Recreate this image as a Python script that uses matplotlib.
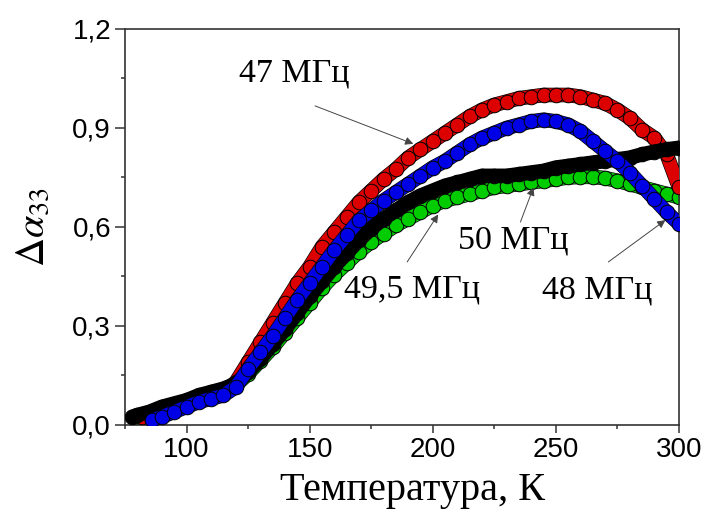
import matplotlib
matplotlib.use("Agg")
import matplotlib.pyplot as plt
import matplotlib.patheffects as pe
from matplotlib.ticker import MultipleLocator, FuncFormatter


# Temperature, K (each curve starts at its own point)
T_47 = [82, 85, 90, 95, 100, 105, 110, 115, 120, 125, 130, 135, 140, 145,
        150, 155, 160, 165, 170, 175, 180, 185, 190, 195, 200, 205, 210,
        215, 220, 225, 230, 235, 240, 245, 250, 255, 260, 265, 270, 275,
        280, 285, 290, 295, 300]
T_48 = [86, 90, 95, 100, 105, 110, 115, 120, 125, 130, 135, 140, 145,
        150, 155, 160, 165, 170, 175, 180, 185, 190, 195, 200, 205, 210,
        215, 220, 225, 230, 235, 240, 245, 250, 255, 260, 265, 270, 275,
        280, 285, 290, 295, 300]
T_495 = [80, 85, 90, 95, 100, 105, 110, 115, 120, 125, 130, 135, 140, 145,
         150, 155, 160, 165, 170, 175, 180, 185, 190, 195, 200, 205, 210,
         215, 220, 225, 230, 235, 240, 245, 250, 255, 260, 265, 270, 275,
         280, 285, 290, 295, 300]
T_50 = [78, 80, 85, 90, 95, 100, 105, 110, 115, 120, 125, 130, 135, 140,
        145, 150, 155, 160, 165, 170, 175, 180, 185, 190, 195, 200, 205,
        210, 215, 220, 225, 230, 235, 240, 245, 250, 255, 260, 265, 270,
        275, 280, 285, 290, 295, 300]

# delta alpha_33
A_47 = [0.025, 0.03, 0.04, 0.05, 0.065, 0.08, 0.09, 0.10, 0.13, 0.19, 0.25,
        0.31, 0.37, 0.43, 0.48, 0.54, 0.585, 0.63, 0.675, 0.71, 0.745,
        0.775, 0.81, 0.835, 0.86, 0.885, 0.91, 0.935, 0.955, 0.97, 0.98,
        0.99, 0.995, 1.0, 1.0, 1.0, 0.995, 0.985, 0.975, 0.955, 0.93,
        0.895, 0.87, 0.82, 0.72]
A_48 = [0.015, 0.025, 0.04, 0.055, 0.07, 0.08, 0.09, 0.115, 0.17, 0.22,
        0.27, 0.325, 0.38, 0.43, 0.48, 0.53, 0.575, 0.62, 0.65, 0.68,
        0.705, 0.73, 0.755, 0.78, 0.80, 0.825, 0.85, 0.87, 0.885, 0.90,
        0.91, 0.92, 0.925, 0.92, 0.91, 0.89, 0.86, 0.83, 0.80, 0.765,
        0.725, 0.685, 0.645, 0.61]
A_495 = [0.025, 0.035, 0.05, 0.06, 0.07, 0.085, 0.095, 0.105, 0.12, 0.155,
         0.195, 0.235, 0.28, 0.325, 0.37, 0.415, 0.455, 0.49, 0.525, 0.555,
         0.58, 0.605, 0.625, 0.645, 0.665, 0.68, 0.69, 0.70, 0.71, 0.72,
         0.725, 0.73, 0.735, 0.74, 0.745, 0.75, 0.752, 0.752, 0.748, 0.74,
         0.73, 0.72, 0.71, 0.70, 0.69]
A_50 = [0.025, 0.03, 0.04, 0.055, 0.065, 0.075, 0.09, 0.10, 0.11, 0.125,
        0.16, 0.20, 0.245, 0.29, 0.34, 0.39, 0.435, 0.48, 0.52, 0.56,
        0.595, 0.625, 0.65, 0.675, 0.695, 0.71, 0.725, 0.735, 0.745,
        0.755, 0.755, 0.755, 0.76, 0.765, 0.77, 0.78, 0.785, 0.79, 0.795,
        0.80, 0.805, 0.81, 0.82, 0.828, 0.835, 0.84]

# draw order: bottom first
SERIES = [
    (T_495, A_495, "#00cc00"),
    (T_47, A_47, "#dd0000"),
    (T_50, A_50, "#000000"),
    (T_48, A_48, "#0000e6"),
]

# label text, text position, arrow start, arrow tip
LABELS = [
    ("47 МГц", (143.7, 1.067), (152.2, 0.967), (192.1, 0.852)),
    ("50 МГц", (232.7, 0.56), (235.6, 0.615), (240.9, 0.72)),
    ("49,5 МГц", (191.7, 0.412), (189.6, 0.494), (202.2, 0.638)),
    ("48 МГц", (266.9, 0.409), (271.3, 0.494), (294.5, 0.621)),
]

plt.rcParams["mathtext.fontset"] = "stix"

fig = plt.figure(figsize=(7.05, 5.15), dpi=100)
ax = fig.add_axes([0.1773, 0.1748, 0.7858, 0.7689])

for z, (t, a, color) in enumerate(SERIES):
    ax.plot(t, a, color=color, lw=9.5, solid_capstyle="round", zorder=2 + z,
            path_effects=[pe.withStroke(linewidth=10.5, foreground="k")])
    ax.plot(t, a, "o", ms=10.5, mfc=color, mec="k", mew=0.7, zorder=2 + z)

for text, pos, start, tip in LABELS:
    ax.text(pos[0], pos[1], text, ha="center", va="center", fontsize=24.5,
            family="Liberation Serif", zorder=10)
    ax.annotate("", xy=tip, xytext=start, zorder=10,
                arrowprops=dict(arrowstyle="-|>", color="#444444", lw=0.7,
                                mutation_scale=12, shrinkA=0, shrinkB=0))

ax.set_xlim(75, 300)
ax.set_ylim(0, 1.2)
ax.xaxis.set_major_locator(MultipleLocator(50))
ax.xaxis.set_minor_locator(MultipleLocator(25))
ax.yaxis.set_major_locator(MultipleLocator(0.3))
ax.yaxis.set_minor_locator(MultipleLocator(0.15))
ax.yaxis.set_major_formatter(FuncFormatter(lambda v, p: f"{v:.1f}".replace(".", ",")))

for s in ax.spines.values():
    s.set_color("#333333")
    s.set_linewidth(1.2)

ax.tick_params(which="both", direction="out", top=False, right=False,
               color="#333333", width=1.1)
ax.tick_params(axis="y", which="major", length=7, pad=3, labelsize=20)
ax.tick_params(axis="x", which="major", length=6, pad=3, labelsize=20)
ax.tick_params(which="minor", length=3)
for lab in ax.get_xticklabels() + ax.get_yticklabels():
    lab.set_family("Liberation Sans")

ax.set_xlabel("Температура, К", fontsize=29, family="Liberation Serif")
ax.xaxis.set_label_coords(0.519, -0.118)
ax.set_ylabel(r"$\Delta\alpha_{33}$", fontsize=29)
ax.yaxis.set_label_coords(-0.13, 0.5)

fig.savefig("out.png", dpi=100)
